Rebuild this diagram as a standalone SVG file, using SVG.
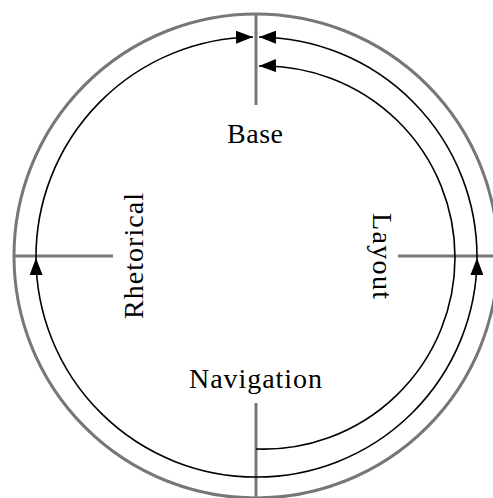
<svg xmlns="http://www.w3.org/2000/svg" width="493" height="498" viewBox="0 0 493 498">
<style>
.g{stroke:#777;stroke-width:3;fill:none}
.c{stroke:#000;stroke-width:1.6;fill:none}
.t{font-family:"Liberation Serif","Times New Roman",serif;font-size:28px;fill:#000;text-anchor:middle}
</style>
<defs>
<marker id="ah" viewBox="0 0 17 13" refX="17" refY="6.5" markerWidth="17" markerHeight="13" markerUnits="userSpaceOnUse" orient="auto"><path d="M0,0 L17,6.5 L0,13 Z" fill="#000"/></marker>
</defs>
<rect width="493" height="498" fill="#fff"/>
<circle class="g" cx="256" cy="256" r="242"/>
<g id="Base">
<line class="g" x1="256" y1="14" x2="256" y2="105"/>
<text class="t" x="255" y="143" textLength="56">Base</text>
</g>
<g id="Rhetorical">
<line class="g" x1="14" y1="256" x2="113" y2="256"/>
<text class="t" transform="translate(143,256) rotate(-90)" textLength="126">Rhetorical</text>
</g>
<g id="Layout">
<line class="g" x1="398" y1="256" x2="493" y2="256"/>
<text class="t" transform="translate(373,256) rotate(90)" textLength="86">Layout</text>
</g>
<g id="Navigation">
<line class="g" x1="256" y1="403" x2="256" y2="498"/>
<text class="t" x="255.5" y="388" textLength="133">Navigation</text>
</g>
<g id="connectors">
<path class="c" d="M256,477 A220,220 0 0 1 36,258" marker-end="url(#ah)"/>
<path class="c" d="M36,258 A220,220 0 0 1 253,37" marker-end="url(#ah)"/>
<path class="c" d="M256,477 A220,220 0 0 0 477,258" marker-end="url(#ah)"/>
<path class="c" d="M477,258 A220,220 0 0 0 259,37" marker-end="url(#ah)"/>
<path class="c" d="M256,449 A191.6,191.6 0 0 0 455,257.5 A191.6,191.6 0 0 0 259,66" marker-end="url(#ah)"/>
</g>
</svg>
